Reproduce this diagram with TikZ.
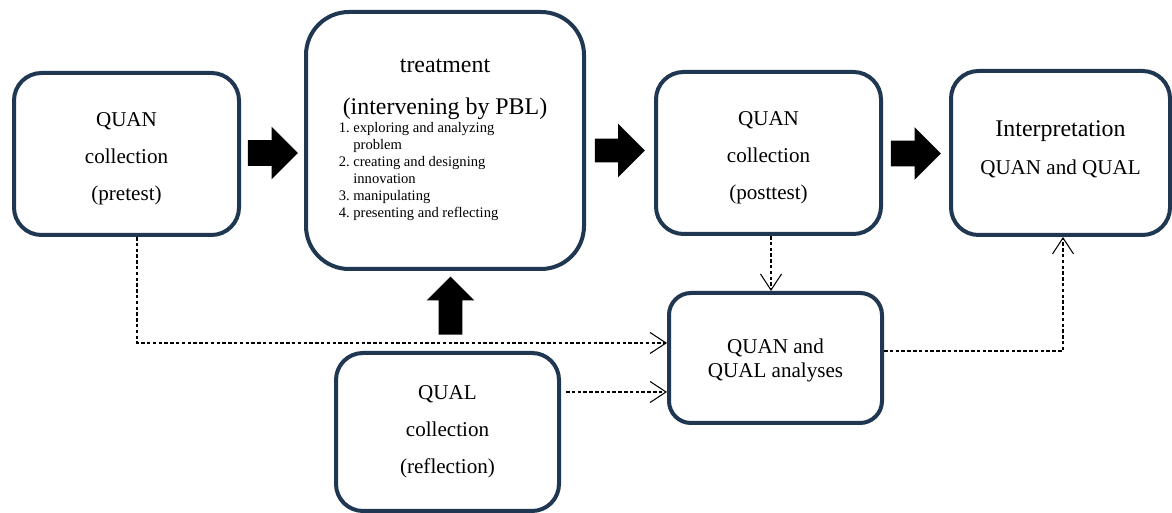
\documentclass[tikz,border=0pt]{standalone}
\usepackage{fontspec}
\setmainfont{Liberation Serif}
\usetikzlibrary{positioning,arrows.meta,calc,shapes.arrows}
\definecolor{cBoxLine}{HTML}{1F3751}
\definecolor{cDash}{HTML}{000000}
\tikzset{
  box/.style={draw=cBoxLine, line width=0.08cm, fill=white, rounded corners=0.55cm,
              align=center, inner sep=0pt, font=\fontsize{12}{21}\selectfont},
  bigArrow/.style={single arrow, fill=black, draw=none, inner sep=0pt,
                   text height=0.5cm, text depth=0pt, minimum height=1.0cm,
                   single arrow head extend=0.27cm},
  dashFlow/.style={draw=cDash, line width=0.75pt, dash pattern=on 2pt off 1.3pt,
                   -{Straight Barb[length=0.32cm, width=0.42cm, line width=0.6pt]}},
  titleTxt/.style={align=center, inner sep=0pt, font=\fontsize{13.6}{23.9}\selectfont},
  listTxt/.style={align=left, inner sep=0pt, font=\fontsize{8.3}{9.6}\selectfont},
}

\begin{document}
\begin{tikzpicture}
\useasboundingbox (0,0) rectangle (23.44,10.26);

% ========== COLLECTION BOXES ==========
\node[box, minimum width=4.50cm, minimum height=3.24cm, text height=55pt] (preQuan) at (2.53,7.18)
  {QUAN\\collection\\(pretest)};
\node[box, minimum width=5.56cm, minimum height=5.14cm, rounded corners=0.86cm]
  (treat) at (8.90,7.45) {};
\node[titleTxt, anchor=north] (treatTitle) at ($(treat.north)+(0,-0.97)$)
  {treatment\\(intervening by PBL)};
\node[listTxt, anchor=north west] (treatList) at ($(treatTitle.south west)+(-0.08,-0.02)$)
  {\begin{tabular}{@{}r@{\ }l@{}}
     1. & exploring and analyzing\\
        & problem\\
     2. & creating and designing\\
        & innovation\\
     3. & manipulating\\
     4. & presenting and reflecting
   \end{tabular}};
\node[box, minimum width=4.50cm, minimum height=3.24cm, text height=55pt] (postQuan) at (15.37,7.20)
  {QUAN\\collection\\(posttest)};
\node[box, minimum width=4.38cm, minimum height=3.28cm, font=\fontsize{12}{21.6}\selectfont,
      text depth=6pt] (interp) at (21.21,7.20)
  {{\fontsize{13.6}{21.6}\selectfont Interpretation}\\QUAN and QUAL};

% ========== ANALYSES AND REFLECTION ==========
\node[box, minimum width=4.26cm, minimum height=2.60cm, rounded corners=0.44cm,
      font=\fontsize{12}{13.7}\selectfont, text height=25pt] (anal) at (15.51,3.10)
  {QUAN and\\QUAL analyses};
\node[box, minimum width=4.46cm, minimum height=3.16cm, rounded corners=0.54cm]
  (reflQual) at (8.95,1.62) {QUAL\\collection\\(reflection)};

% ========== BLOCK ARROWS ==========
\node[bigArrow] (arrA) at (5.33,7.20) {};
\node[bigArrow, text height=0.46cm, single arrow head extend=0.30cm] (arrB) at (12.28,7.25) {};
\node[bigArrow] (arrC) at (18.19,7.19) {};
\node[bigArrow, rotate=90, text height=0.46cm, single arrow head extend=0.24cm,
      minimum height=1.16cm] (arrUp) at (9.01,4.03) {};

% ========== DASHED FLOWS ==========
\draw[dashFlow] ([xshift=0.21cm]preQuan.south) |- ([yshift=0.30cm]anal.west);
\coordinate (reflOut) at ([xshift=0.10cm,yshift=0.80cm]reflQual.east);
\draw[dashFlow] (reflOut) -- (reflOut -| anal.west);
\draw[dashFlow] ([xshift=0.05cm]postQuan.south) -- ([xshift=0.05cm]postQuan.south |- anal.north);
\draw[dashFlow] ([yshift=0.14cm]anal.east) -| ([xshift=0.05cm]interp.south);

\end{tikzpicture}
\end{document}
